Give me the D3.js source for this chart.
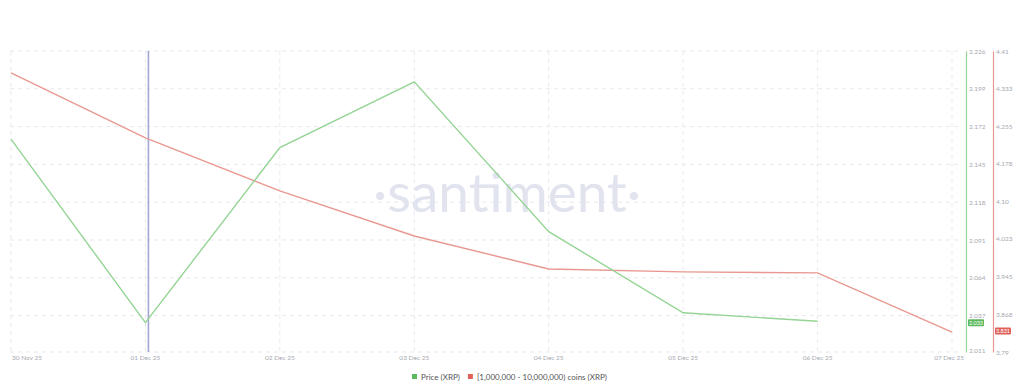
<!DOCTYPE html>
<html>
<head>
<meta charset="utf-8">
<script src="https://cdn.jsdelivr.net/npm/d3@7"></script>
<style>
  html, body { margin: 0; padding: 0; background: #fff; }
  svg { display: block; }
</style>
</head>
<body>
<svg id="chart" width="1024" height="390"></svg>
<script>
// XRP price vs. [1M - 10M) coin holders — Santiment style
const dates = ['2025-11-30', '2025-12-01', '2025-12-02', '2025-12-03', '2025-12-04', '2025-12-05', '2025-12-06', '2025-12-07'];
const dateLabels = ['30 Nov 25', '01 Dec 25', '02 Dec 25', '03 Dec 25', '04 Dec 25', '05 Dec 25', '06 Dec 25', '07 Dec 25'];

// price stops at 06 Dec
const price = [2.163, 2.032, 2.157, 2.204, 2.097, 2.039, 2.033];
const holders = [4.365, 4.231, 4.122, 4.029, 3.961, 3.955, 3.953, 3.831];

const priceTicks = [2.226, 2.199, 2.172, 2.145, 2.118, 2.091, 2.064, 2.037, 2.011];
const holderTicks = [4.41, 4.333, 4.255, 4.178, 4.10, 4.023, 3.945, 3.868, 3.79];
const holderTickLabels = ['4.41', '4.333', '4.255', '4.178', '4.10', '4.023', '3.945', '3.868', '3.79'];

const markerDate = '2025-12-01';

(function() {
    const C = {
        price:   '#95d495',
        holders: '#e89890',
        grid:    '#e9e9ee',
        tick:    '#a8a8b0',
        marker:  '#a3a5d4',
    };
    const FONT = 'Lato, "Open Sans", sans-serif';

    const svg = d3.select('#chart');
    const parse = d3.timeParse('%Y-%m-%d');
    const xDates = dates.map(parse);

    const top = 51, bottom = 352;
    const x = d3.scaleTime()
        .domain([xDates[0], xDates[xDates.length - 1]])
        .range([11, 952]);
    const yP = d3.scaleLinear()
        .domain([priceTicks[priceTicks.length - 1], priceTicks[0]])
        .range([bottom, top]);
    const yH = d3.scaleLinear()
        .domain([holderTicks[holderTicks.length - 1], holderTicks[0]])
        .range([bottom, top]);

    svg.append('rect').attr('width', 1024).attr('height', 390).attr('fill', '#fff');

    // Grid
    const grid = svg.append('g');
    priceTicks.forEach(function(v) {
        grid.append('line')
            .attr('x1', 10).attr('x2', 962)
            .attr('y1', yP(v)).attr('y2', yP(v))
            .attr('stroke', C.grid).attr('stroke-dasharray', '4,4');
    });
    xDates.forEach(function(d) {
        grid.append('line')
            .attr('x1', x(d)).attr('x2', x(d))
            .attr('y1', top).attr('y2', bottom)
            .attr('stroke', C.grid).attr('stroke-dasharray', '4,4');
    });

    // Watermark
    svg.append('text')
        .attr('x', 507).attr('y', 212)
        .attr('text-anchor', 'middle')
        .attr('font-family', 'Lato, sans-serif')
        .attr('font-weight', 400)
        .attr('font-size', 55)
        .attr('fill', '#e1e3ee')
        .text('·santiment·');

    // X axis labels
    const xl = svg.append('g')
        .attr('font-family', FONT).attr('font-size', 6.5).attr('fill', C.tick);
    xDates.forEach(function(d, i) {
        const last = i === xDates.length - 1;
        xl.append('text')
            .attr('x', i === 0 ? 12 : (last ? 964 : x(d)))
            .attr('y', 360)
            .attr('text-anchor', i === 0 ? 'start' : (last ? 'end' : 'middle'))
            .text(dateLabels[i]);
    });

    // Marker line
    svg.append('line')
        .attr('x1', x(parse(markerDate)) + 3).attr('x2', x(parse(markerDate)) + 3)
        .attr('y1', top).attr('y2', bottom)
        .attr('stroke', C.marker).attr('stroke-width', 1.6);

    // Series
    const priceLine = d3.line().x(function(d, i) { return x(xDates[i]); }).y(function(d) { return yP(d); });
    const holderLine = d3.line().x(function(d, i) { return x(xDates[i]); }).y(function(d) { return yH(d); });

    svg.append('path').datum(holders)
        .attr('d', holderLine)
        .attr('fill', 'none').attr('stroke', C.holders).attr('stroke-width', 1.4);
    svg.append('path').datum(price)
        .attr('d', priceLine)
        .attr('fill', 'none').attr('stroke', C.price).attr('stroke-width', 1.4);

    // Right axes
    function styleAxis(g, color) {
        g.select('.domain').attr('stroke', color).attr('stroke-width', 1.2);
        g.selectAll('text')
            .attr('font-family', FONT).attr('font-size', 6.5)
            .attr('fill', C.tick).attr('dx', -1);
    }
    const axP = svg.append('g').attr('transform', 'translate(966,0)')
        .call(d3.axisRight(yP).tickValues(priceTicks).tickSize(0).tickPadding(4).tickFormat(d3.format('.3f')));
    styleAxis(axP, C.price);
    axP.selectAll('.tick').filter(function(d, i) { return i === priceTicks.length - 1; })
        .select('text').attr('dy', '0.1em');
    const axH = svg.append('g').attr('transform', 'translate(993,0)')
        .call(d3.axisRight(yH).tickValues(holderTicks).tickSize(0).tickPadding(4)
            .tickFormat(function(d, i) { return holderTickLabels[i]; }));
    styleAxis(axH, C.holders);

    // Last-value badges
    function badge(xPos, yPos, val, fill) {
        const g = svg.append('g');
        g.append('rect')
            .attr('x', xPos).attr('y', yPos - 3.5).attr('width', 16).attr('height', 7)
            .attr('rx', 1).attr('fill', fill);
        g.append('text')
            .attr('x', xPos + 8).attr('y', yPos + 2)
            .attr('text-anchor', 'middle')
            .attr('font-family', FONT).attr('font-size', 5.5).attr('fill', '#fff')
            .text(d3.format('.3f')(val));
    }
    badge(968, yP(price[price.length - 1]) + 1.5, price[price.length - 1], '#5cb85c');
    badge(995, yH(holders[holders.length - 1]) - 1, holders[holders.length - 1], '#e0605a');

    // Legend
    const leg = svg.append('g').attr('font-family', FONT).attr('font-size', 8).attr('fill', '#555');
    const items = [
        { label: 'Price (XRP)', color: '#5cb85c' },
        { label: '[1,000,000 - 10,000,000) coins (XRP)', color: '#e0605a' },
    ];
    let lx = 412;
    items.forEach(function(it) {
        leg.append('rect').attr('x', lx).attr('y', 374).attr('width', 5).attr('height', 5).attr('fill', it.color);
        const t = leg.append('text').attr('x', lx + 9).attr('y', 379.5).text(it.label);
        lx += 9 + t.node().getComputedTextLength() + 8;
    });
})();
</script>
</body>
</html>
